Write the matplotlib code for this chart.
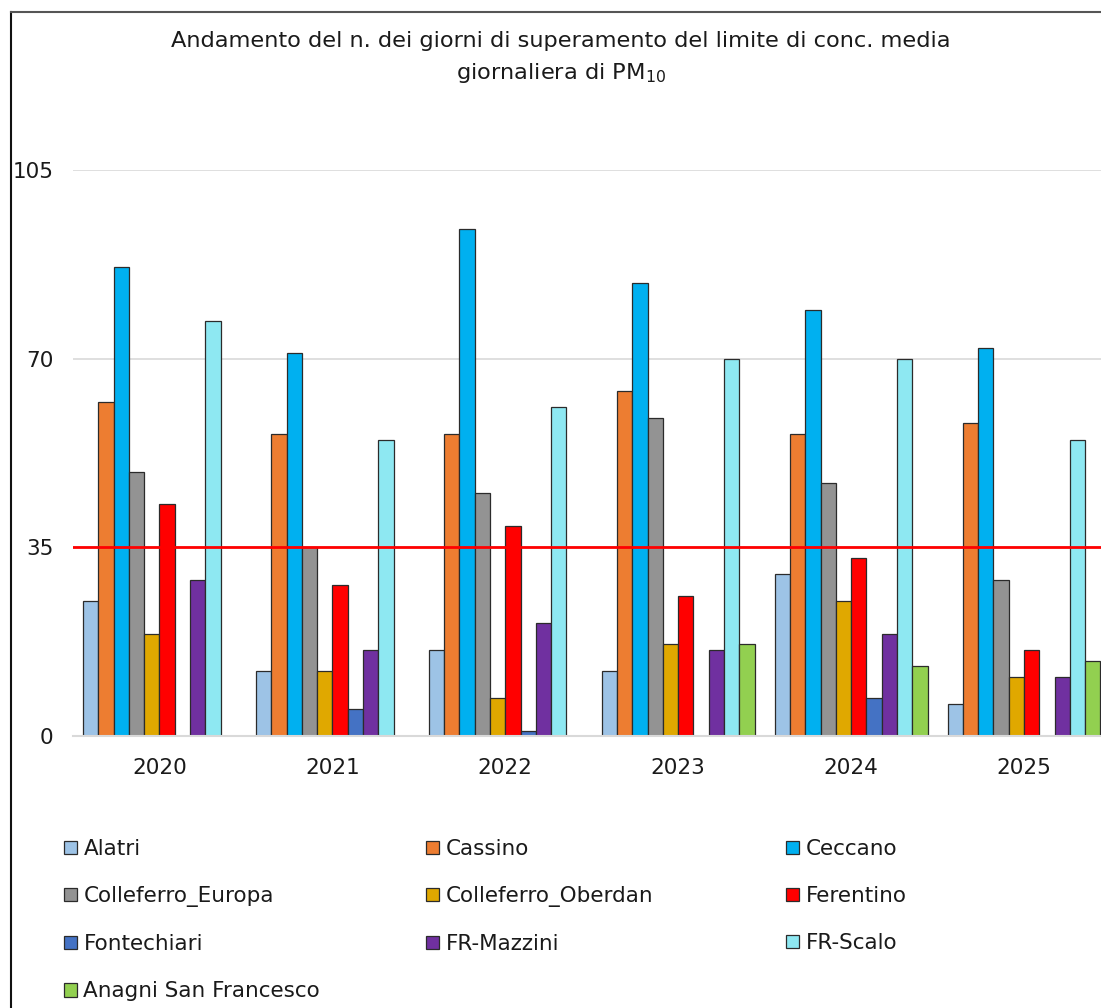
import numpy as np
import matplotlib
matplotlib.use("Agg")
import matplotlib.pyplot as plt
from matplotlib.lines import Line2D

years = ["2020", "2021", "2022", "2023", "2024", "2025"]
stations = ["Alatri", "Cassino", "Ceccano", "Colleferro_Europa", "Colleferro_Oberdan",
            "Ferentino", "Fontechiari", "FR-Mazzini", "FR-Scalo", "Anagni San Francesco"]
nan = np.nan
alatri = [25, 12, 16, 12, 30, 6]
cassino = [62, 56, 56, 64, 56, 58]
ceccano = [87, 71, 94, 84, 79, 72]
colleferro_europa = [49, 35, 45, 59, 47, 29]
colleferro_oberdan = [19, 12, 7, 17, 25, 11]
ferentino = [43, 28, 39, 26, 33, 16]
fontechiari = [nan, 5, 1, nan, 7, nan]
fr_mazzini = [29, 16, 21, 16, 19, 11]
fr_scalo = [77, 55, 61, 70, 70, 55]
anagni = [nan, nan, nan, 17, 13, 14]
series = [alatri, cassino, ceccano, colleferro_europa, colleferro_oberdan,
          ferentino, fontechiari, fr_mazzini, fr_scalo, anagni]
colors = ["#9DC3E6", "#ED7D31", "#00B0F0", "#939393", "#E0A800",
          "#FF0000", "#4472C4", "#7030A0", "#8EE8F2", "#92D050"]
limit = 35
yticks = [0, 35, 70, 105]

W, H = 1101, 1008
fig = plt.figure(figsize=(W / 100, H / 100), dpi=100)
plt.rcParams['font.family'] = ['DejaVu Sans']

# axes: x from 73 to 1110 px, y from 170 to 736 px
ax = fig.add_axes([73 / W, 1 - 736 / H, (1110.5 - 73) / W, (736 - 170) / H])
x = np.arange(len(years))
bw = 0.0884
n = len(series)
handles = []
for i, (vals, c) in enumerate(zip(series, colors)):
    offs = (i - (n - 1) / 2) * bw
    b = ax.bar(x + offs, np.array(vals, dtype=float), width=bw, color=c,
               edgecolor="#2b2b2b", linewidth=0.9, label=stations[i], zorder=3)
    handles.append(b)

ax.axhline(limit, color="#FF0000", lw=2, zorder=4)
ax.set_xlim(-0.5, len(years) - 0.5)
ax.set_ylim(0, 105)
ax.set_yticks(yticks)
ax.set_xticks(x)
ax.set_xticklabels(years)
ax.tick_params(axis="both", length=0, labelsize=15.5, colors="#1a1a1a")
ax.tick_params(axis="y", pad=14)
ax.tick_params(axis="x", pad=16)
ax.grid(axis="y", color="#D9D9D9", lw=1.2, zorder=0)
for s in ["top", "right", "left"]:
    ax.spines[s].set_visible(False)
ax.spines["bottom"].set_color("#D9D9D9")
ax.spines["bottom"].set_linewidth(1.5)
ax.spines["bottom"].set_zorder(5)

fig.text(561 / W, 1 - 41 / H, "Andamento del n. dei giorni di superamento del limite di conc. media",
         ha="center", va="center", fontsize=16.2, color="#1a1a1a")
fig.text(561 / W, 1 - 73 / H, "giornaliera di PM$_{10}$",
         ha="center", va="center", fontsize=16.2, color="#1a1a1a")

# legend: three columns
cols_x = [64, 426, 786]
for ci, cx in enumerate(cols_x):
    idx = list(range(ci, n, 3))
    leg = fig.legend([handles[k] for k in idx], [stations[k] for k in idx],
                     loc="upper left", bbox_to_anchor=(cx / W, 1 - 839 / H),
                     frameon=False, fontsize=15.5, handlelength=0.6, handleheight=0.6,
                     handletextpad=0.3, labelspacing=1.26, borderaxespad=0, borderpad=0)
    for t in leg.get_texts():
        t.set_color("#1a1a1a")

# outer frame
fig.add_artist(Line2D([11 / W, 11 / W], [0, 1 - 12 / H], color="#111111", lw=1.5, transform=fig.transFigure))
fig.add_artist(Line2D([11 / W, 1.0], [1 - 12 / H, 1 - 12 / H], color="#555555", lw=1.5, transform=fig.transFigure))

fig.savefig("out.png", dpi=100)
